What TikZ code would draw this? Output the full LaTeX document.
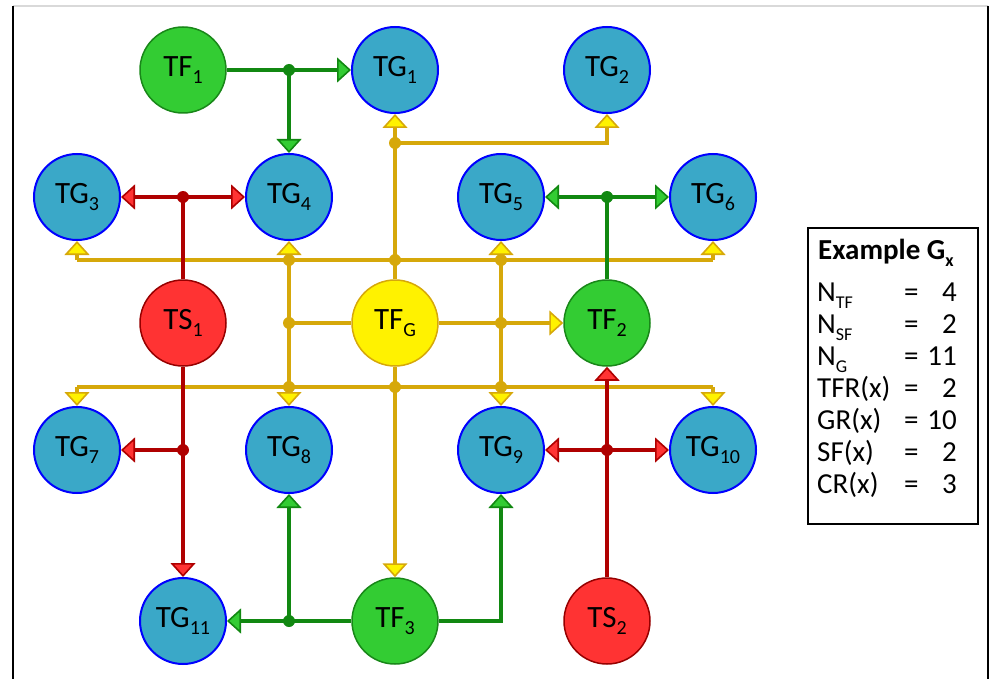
\documentclass[tikz,border=0pt]{standalone}
\usepackage{fontspec}
\setmainfont{Carlito}
\usetikzlibrary{arrows.meta}
\definecolor{tgfill}{RGB}{58,168,200}
\definecolor{tffill}{RGB}{51,204,51}
\definecolor{tfborder}{RGB}{25,135,25}
\definecolor{gline}{RGB}{17,136,17}
\definecolor{tsfill}{RGB}{255,51,51}
\definecolor{tsborder}{RGB}{150,0,0}
\definecolor{rline}{RGB}{175,0,0}
\definecolor{rtip}{RGB}{255,51,51}
\definecolor{yline}{RGB}{214,168,10}
\definecolor{gtip}{RGB}{51,204,51}
\newcommand\lsub[1]{\raisebox{-0.25em}{\fontsize{20}{20}\selectfont #1}}
\newcommand\tsub[1]{\raisebox{-0.25em}[\height][0pt]{\fontsize{18}{18}\selectfont #1}}
\begin{document}
\begin{tikzpicture}[x=1pt,y=-1pt,
  base/.style={circle,minimum size=86pt,inner sep=0pt,font=\fontsize{31}{31}\selectfont},
  tg/.style={base,fill=tgfill,draw=blue,line width=2pt},
  tf/.style={base,fill=tffill,draw=tfborder,line width=1.5pt},
  ts/.style={base,fill=tsfill,draw=tsborder,line width=1.5pt},
  tfg/.style={base,fill=yellow,draw=yline,line width=1.5pt},
  gw/.style={draw=gline,line width=3.4pt},
  rw/.style={draw=rline,line width=3.4pt},
  yw/.style={draw=yline,line width=3.4pt},
  garr/.style={-{Triangle[width=25pt,length=14pt,fill=gtip,line width=1.6pt]}},
  rarr/.style={-{Triangle[width=25pt,length=14pt,fill=rtip,line width=1.6pt]}},
  yarr/.style={-{Triangle[width=25pt,length=14pt,fill=yellow,line width=1.6pt]}},
  leg/.style={anchor=base west,inner sep=0pt,font=\fontsize{29}{29}\selectfont},
  legv/.style={anchor=base east,inner sep=0pt,font=\fontsize{29}{29}\selectfont}
]
\useasboundingbox (0,0) rectangle (992,679);
% frame
\coordinate (f1) at (13,679);
\coordinate (f2) at (13,6);
\coordinate (f3) at (988,6);
\coordinate (f4) at (988,679);
\draw[black!15,line width=2pt] (f2) -- (f3);
\draw[black,line width=2.2pt] (f1) -- (f2);
\draw[black,line width=2.2pt] (f3) -- (f4);

% nodes
\node[tf] (TF1) at (183,70) {TF\lsub{1}};
\node[tg] (TG1) at (395,70) {TG\lsub{1}};
\node[tg] (TG2) at (607,70) {TG\lsub{2}};
\node[tg] (TG3) at (77,197) {TG\lsub{3}};
\node[tg] (TG4) at (289,197) {TG\lsub{4}};
\node[tg] (TG5) at (501,197) {TG\lsub{5}};
\node[tg] (TG6) at (713,197) {TG\lsub{6}};
\node[ts] (TS1) at (183,323) {TS\lsub{1}};
\node[tfg] (TFG) at (395,323) {TF\lsub{G}};
\node[tf] (TF2) at (607,323) {TF\lsub{2}};
\node[tg] (TG7) at (77,450) {TG\lsub{7}};
\node[tg] (TG8) at (289,450) {TG\lsub{8}};
\node[tg] (TG9) at (501,450) {TG\lsub{9}};
\node[tg] (TG10) at (713,450) {TG\lsub{10}};
\node[tg] (TG11) at (183,621) {TG\lsub{11}};
\node[tf] (TF3) at (395,621) {TF\lsub{3}};
\node[ts] (TS2) at (607,621) {TS\lsub{2}};

% junction coordinates
\coordinate (g1) at (289,70);
\coordinate (g2) at (607,197);
\coordinate (g3) at (289,621);
\coordinate (r1) at (183,197);
\coordinate (r2) at (183,450);
\coordinate (r3) at (607,450);
\coordinate (y0) at (395,143);
\coordinate (ya1) at (77,260);
\coordinate (ya2) at (289,260);
\coordinate (ya3) at (395,260);
\coordinate (ya4) at (501,260);
\coordinate (ya5) at (713,260);
\coordinate (ym2) at (289,323);
\coordinate (ym4) at (501,323);
\coordinate (yb1) at (77,387);
\coordinate (yb2) at (289,387);
\coordinate (yb3) at (395,387);
\coordinate (yb4) at (501,387);
\coordinate (yb5) at (713,387);

% yellow wires
\draw[yw] (ya1) -- (ya5);
\draw[yw] (yb1) -- (yb5);
\draw[yw] (ya2) -- (yb2);
\draw[yw] (ya4) -- (yb4);
\draw[yw] (TFG) -- (ym2);
\draw[yw,yarr] (TFG) -- (TG1);
\draw[yw,yarr] (y0) -| (TG2);
\draw[yw,yarr] (TFG) -- (TF2);
\draw[yw,yarr] (TFG) -- (TF3);
\draw[yw,yarr] (ya1) -- (TG3);
\draw[yw,yarr] (ya2) -- (TG4);
\draw[yw,yarr] (ya4) -- (TG5);
\draw[yw,yarr] (ya5) -- (TG6);
\draw[yw,yarr] (yb1) -- (TG7);
\draw[yw,yarr] (yb2) -- (TG8);
\draw[yw,yarr] (yb4) -- (TG9);
\draw[yw,yarr] (yb5) -- (TG10);
\foreach \p in {y0,ya2,ya3,ya4,ym2,ym4,yb2,yb3,yb4} \fill[yline] (\p) circle (6pt);

% green wires
\draw[gw] (TF1) -- (g1);
\draw[gw,garr] (g1) -- (TG1);
\draw[gw,garr] (g1) -- (TG4);
\draw[gw] (TF2) -- (g2);
\draw[gw,garr] (g2) -- (TG5);
\draw[gw,garr] (g2) -- (TG6);
\draw[gw] (TF3) -- (g3);
\draw[gw,garr] (g3) -- (TG11);
\draw[gw,garr] (g3) -- (TG8);
\draw[gw,garr] (TF3) -| (TG9);
\foreach \p in {g1,g2,g3} \fill[gline] (\p) circle (6pt);

% red wires
\draw[rw] (TS1) -- (r1);
\draw[rw,rarr] (r1) -- (TG3);
\draw[rw,rarr] (r1) -- (TG4);
\draw[rw,rarr] (TS1) -- (TG11);
\draw[rw,rarr] (r2) -- (TG7);
\draw[rw,rarr] (TS2) -- (TF2);
\draw[rw,rarr] (r3) -- (TG9);
\draw[rw,rarr] (r3) -- (TG10);
\foreach \p in {r1,r2,r3} \fill[rline] (\p) circle (6pt);

% legend
\node[draw=black,line width=2pt,minimum width=170pt,minimum height=296pt,inner sep=0pt] (legend) at (893,376) {};
\node[leg,font=\fontsize{29}{29}\selectfont\bfseries] (lt) at (818,259) {Example G\tsub{x}};
\node[leg] (l1) at (817,301) {N\tsub{TF}};
\node[leg] (l2) at (817,333) {N\tsub{SF}};
\node[leg] (l3) at (817,365) {N\tsub{G}};
\node[leg] (l4) at (817,397) {TFR(x)};
\node[leg] (l5) at (817,429) {GR(x)};
\node[leg] (l6) at (817,461) {SF(x)};
\node[leg] (l7) at (817,493) {CR(x)};
\foreach \yy in {301,333,365,397,429,461,493} \node[leg] at (904,\yy) {=};
\node[legv] (v1) at (957,301) {4};
\node[legv] (v2) at (957,333) {2};
\node[legv] (v3) at (957,365) {11};
\node[legv] (v4) at (957,397) {2};
\node[legv] (v5) at (957,429) {10};
\node[legv] (v6) at (957,461) {2};
\node[legv] (v7) at (957,493) {3};
\end{tikzpicture}
\end{document}
